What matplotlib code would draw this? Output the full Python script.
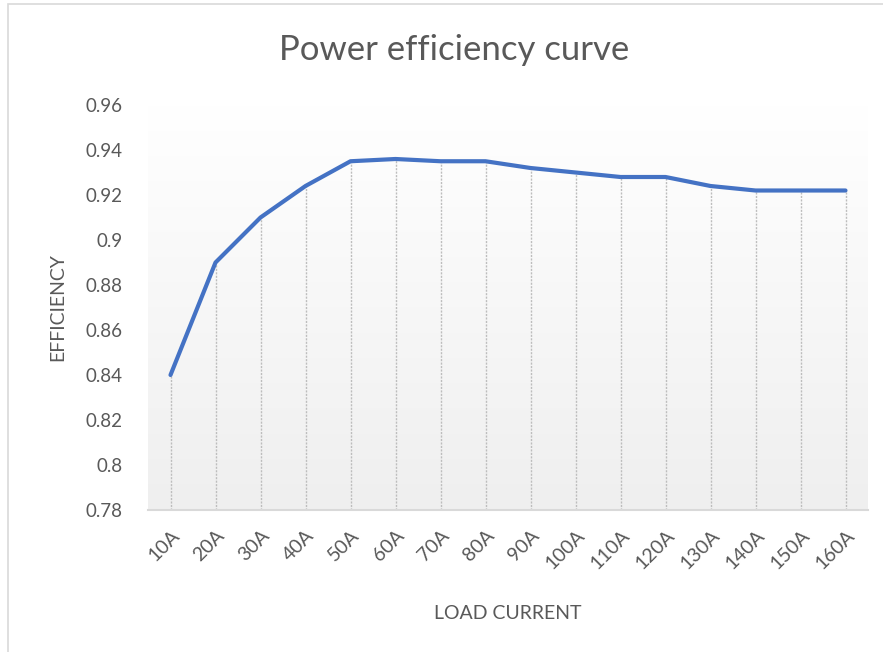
"""
Power efficiency curve - load current vs efficiency
"""

import matplotlib
matplotlib.use("Agg")
import matplotlib.pyplot as plt
import matplotlib.patches as mpatches
import numpy as np

# Data
LOAD_LABELS = ["10A", "20A", "30A", "40A", "50A", "60A", "70A", "80A",
               "90A", "100A", "110A", "120A", "130A", "140A", "150A", "160A"]
EFFICIENCY = [0.840, 0.890, 0.910, 0.924, 0.935, 0.936, 0.935, 0.935,
              0.932, 0.930, 0.928, 0.928, 0.924, 0.922, 0.922, 0.922]
Y_TICKS = [0.78, 0.80, 0.82, 0.84, 0.86, 0.88, 0.90, 0.92, 0.94, 0.96]
Y_TICK_LABELS = ["0.78", "0.8", "0.82", "0.84", "0.86", "0.88", "0.9",
                 "0.92", "0.94", "0.96"]

TEXT_COLOR = "#595959"
LINE_COLOR = "#4472C4"

plt.rcParams['font.family'] = ['Lato', 'DejaVu Sans']

W, H = 883, 652
fig = plt.figure(figsize=(W / 100, H / 100), dpi=100, facecolor='white')

# plot area in pixels: left 148, right 868, top 105, bottom 510
ax = fig.add_axes([148 / W, 1 - 510 / H, (868 - 148) / W, (510 - 105) / H])
ax.set_facecolor('white')

x = np.arange(len(LOAD_LABELS))
ymin, ymax = Y_TICKS[0], Y_TICKS[-1]

ax.set_xlim(-0.5, len(LOAD_LABELS) - 0.5)
ax.set_ylim(ymin, ymax)

# vertical gradient background (white top -> light grey bottom)
grad = np.linspace(1.0, 0.0, 256).reshape(-1, 1)
cmap = matplotlib.colors.LinearSegmentedColormap.from_list(
    "bg", ["#efefef", "#ffffff"])
ax.imshow(grad, aspect='auto', cmap=cmap, origin='upper',
          extent=[-0.5, len(LOAD_LABELS) - 0.5, ymin, ymax], zorder=0,
          vmin=0, vmax=1)

# drop lines
ax.vlines(x, ymin, EFFICIENCY, colors="#bdbdbd", linestyles=(0, (1.5, 1)),
          linewidth=1.0, zorder=1)

# curve
ax.plot(x, EFFICIENCY, color=LINE_COLOR, linewidth=3.0,
        solid_capstyle='round', solid_joinstyle='round', zorder=3)

# axes styling
for side in ['top', 'right', 'left']:
    ax.spines[side].set_visible(False)
ax.spines['bottom'].set_color("#d9d9d9")
ax.spines['bottom'].set_linewidth(1.5)
ax.spines['bottom'].set_zorder(4)

ax.set_yticks(Y_TICKS)
ax.set_yticklabels(Y_TICK_LABELS)
ax.set_xticks(x)
ax.set_xticklabels(LOAD_LABELS, rotation=45, ha='right',
                   rotation_mode='anchor')
ax.tick_params(axis='y', length=0, labelsize=13.5, colors=TEXT_COLOR, pad=18)
ax.tick_params(axis='x', length=0, labelsize=14, colors=TEXT_COLOR, pad=12)

ax.set_ylabel("EFFICIENCY", fontsize=14, color=TEXT_COLOR, labelpad=14)
ax.set_xlabel("LOAD CURRENT", fontsize=14, color=TEXT_COLOR, labelpad=24)

fig.text(454 / W, 1 - 50 / H, "Power efficiency curve", fontsize=25,
         color=TEXT_COLOR, ha='center', va='center')

# chart border
border = mpatches.Rectangle((8 / W, -0.01), 1.0, 1 - 4 / H + 0.01,
                            transform=fig.transFigure, fill=False,
                            edgecolor="#d9d9d9", linewidth=1.2)
fig.patches.append(border)

fig.savefig("out.png", dpi=100, facecolor='white')
plt.close(fig)
